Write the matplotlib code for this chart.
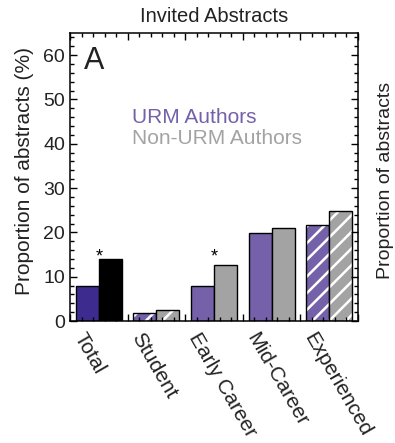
import numpy as np
import matplotlib.pyplot as plt
from matplotlib.ticker import MultipleLocator, FixedLocator

plt.rcParams['font.family'] = ['Liberation Sans', 'DejaVu Sans']
plt.rcParams['hatch.linewidth'] = 1.8

# proportion of invited abstracts by career stage
categories = ['Total', 'Student', 'Early Career', 'Mid-Career', 'Experienced']
urm = [7.8, 1.7, 7.8, 19.8, 21.6]
non_urm = [14.0, 2.5, 12.6, 21.0, 24.9]
significant = [True, False, True, False, False]

urm_colors = ['#3d2b8e', '#7461a9', '#7461a9', '#7461a9', '#7461a9']
non_colors = ['#000000', '#a3a3a3', '#a3a3a3', '#a3a3a3', '#a3a3a3']
hatched = [False, True, False, False, True]

fig = plt.figure(figsize=(3.95, 4.43), dpi=100)
ax = fig.add_axes([70 / 395, 122 / 443, 288 / 395, 288 / 443])

x = np.arange(len(categories))
w = 0.4
for i in range(len(categories)):
    for xc, val, col in [(x[i] - w / 2, urm[i], urm_colors[i]),
                         (x[i] + w / 2, non_urm[i], non_colors[i])]:
        if hatched[i]:
            ax.bar(xc, val, w, color=col, edgecolor='white', linewidth=0, hatch='//')
            ax.bar(xc, val, w, facecolor='none', edgecolor='black', linewidth=1.0)
        else:
            ax.bar(xc, val, w, color=col, edgecolor='black', linewidth=1.0)
    if significant[i]:
        ax.text(x[i], 12.6, '*', ha='center', va='bottom', fontsize=13)

ax.set_xlim(-0.5, len(categories) - 0.5)
ax.set_ylim(0, 65)

ax.yaxis.set_major_locator(MultipleLocator(10))
ax.yaxis.set_minor_locator(MultipleLocator(2))
ax.xaxis.set_major_locator(FixedLocator(np.arange(-0.5, len(categories), 1.0)))
ax.xaxis.set_minor_locator(FixedLocator(np.arange(-0.5, len(categories) - 0.4, 0.2)))
ax.set_xticklabels([])
ax.tick_params(which='both', direction='in', top=True, right=True, width=1.0)
ax.tick_params(which='major', length=5, labelsize=14, labelcolor='#222222')
ax.tick_params(which='minor', length=3)
for s in ax.spines.values():
    s.set_linewidth(1.1)

# rotated category labels under each group
for i, lab in enumerate(categories):
    ax.text(x[i] - 0.22, -2.0, lab, rotation=-60, rotation_mode='anchor',
            ha='left', va='top', fontsize=15, color='#222222')

ax.text(0.05, 0.955, 'A', transform=ax.transAxes, fontsize=22, va='top', ha='left',
        color='#222222')
ax.text(0.58, 44.7, 'URM Authors', color='#7461a9', fontsize=15)
ax.text(0.58, 40.0, 'Non-URM Authors', color='#a3a3a3', fontsize=15)

fig.text(214 / 395, 1 - 16 / 443, 'Invited Abstracts', ha='center', va='center',
         fontsize=14.5, color='#222222')
fig.text(25 / 395, 1 - 171 / 443, 'Proportion of abstracts (%)', rotation=90,
         ha='center', va='center', fontsize=15, color='#222222')
fig.text(386 / 395, 1 - 180 / 443, 'Proportion of abstracts', rotation=90,
         ha='center', va='center', fontsize=14, color='#222222')

fig.savefig('out.png', dpi=100)
